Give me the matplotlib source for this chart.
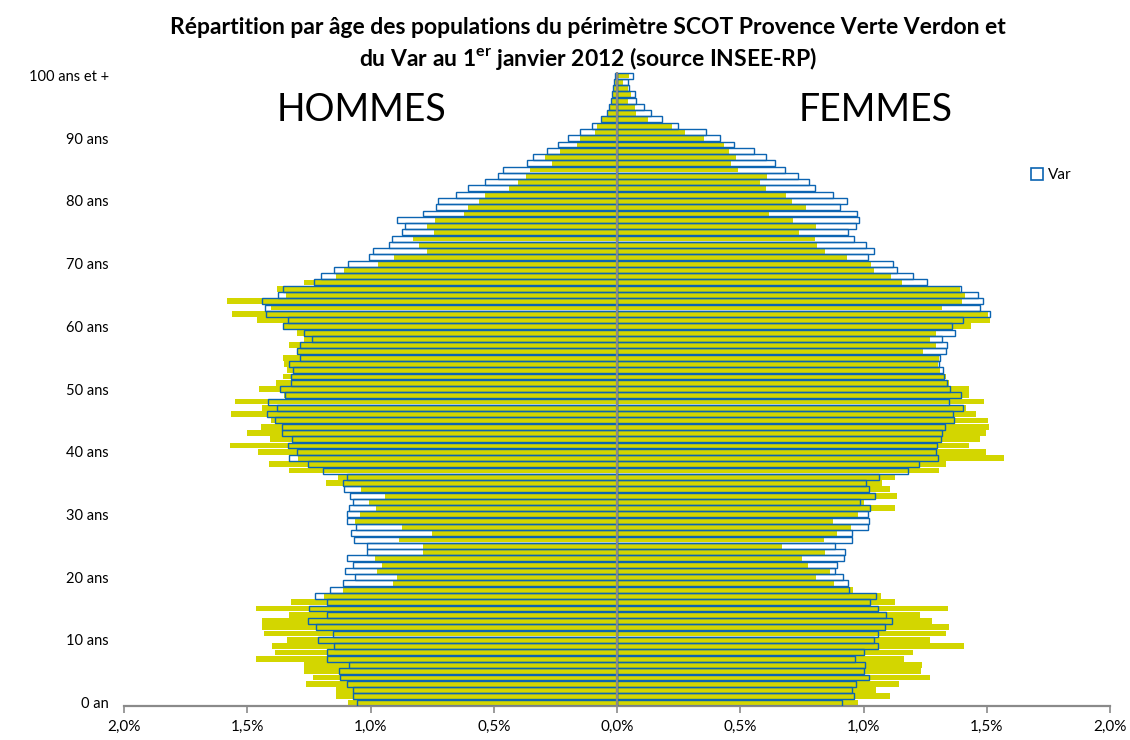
import matplotlib
matplotlib.use("Agg")
import matplotlib.pyplot as plt
from matplotlib.patches import Patch
import numpy as np

plt.rcParams['font.family'] = ['Lato', 'DejaVu Sans']
plt.rcParams['mathtext.fontset'] = 'custom'
plt.rcParams['mathtext.rm'] = 'Lato'
plt.rcParams['mathtext.bf'] = 'Lato:bold'

ages = list(range(0, 101))

hommes_scot = [1.09, 1.138, 1.14, 1.262, 1.232, 1.27, 1.268, 1.466, 1.387, 1.398,
               1.34, 1.432, 1.441, 1.441, 1.331, 1.464, 1.323, 1.189, 1.11, 0.91,
               0.894, 0.972, 0.952, 0.982, 0.788, 0.788, 0.884, 0.752, 0.874, 1.062,
               1.042, 0.978, 1.006, 0.941, 1.039, 1.182, 1.131, 1.33, 1.412, 1.296,
               1.458, 1.572, 1.408, 1.501, 1.444, 1.404, 1.566, 1.442, 1.55, 1.351,
               1.451, 1.384, 1.354, 1.337, 1.351, 1.356, 1.30, 1.329, 1.268, 1.30,
               1.356, 1.459, 1.56, 1.404, 1.583, 1.343, 1.378, 1.268, 1.14, 1.108,
               0.971, 0.905, 0.772, 0.802, 0.829, 0.741, 0.772, 0.738, 0.62, 0.603,
               0.558, 0.535, 0.437, 0.40, 0.369, 0.353, 0.265, 0.292, 0.231, 0.164,
               0.15, 0.089, 0.082, 0.06, 0.035, 0.028, 0.022, 0.018, 0.012, 0.008,
               0.006]

hommes_var = [1.055, 1.072, 1.072, 1.097, 1.124, 1.126, 1.087, 1.175, 1.175, 1.148,
              1.215, 1.153, 1.222, 1.252, 1.178, 1.249, 1.178, 1.225, 1.164, 1.11,
              1.063, 1.103, 1.07, 1.094, 1.013, 1.013, 1.067, 1.08, 1.059, 1.097,
              1.097, 1.086, 1.072, 1.083, 1.108, 1.11, 1.097, 1.194, 1.252, 1.329,
              1.297, 1.333, 1.32, 1.36, 1.358, 1.388, 1.419, 1.378, 1.414, 1.346,
              1.369, 1.322, 1.322, 1.316, 1.329, 1.286, 1.30, 1.286, 1.236, 1.268,
              1.354, 1.336, 1.424, 1.428, 1.441, 1.374, 1.354, 1.229, 1.201, 1.148,
              1.09, 1.005, 0.989, 0.925, 0.914, 0.874, 0.86, 0.894, 0.786, 0.734,
              0.728, 0.653, 0.606, 0.535, 0.484, 0.461, 0.366, 0.339, 0.285, 0.238,
              0.197, 0.15, 0.10, 0.065, 0.039, 0.031, 0.026, 0.022, 0.016, 0.011,
              0.008]

femmes_scot = [0.976, 1.109, 1.052, 1.143, 1.268, 1.233, 1.237, 1.163, 1.201, 1.406,
               1.268, 1.336, 1.346, 1.278, 1.228, 1.341, 1.129, 1.071, 0.957, 0.882,
               0.809, 0.865, 0.775, 0.75, 0.842, 0.669, 0.838, 0.894, 0.951, 0.875,
               0.976, 1.129, 1.003, 1.136, 1.106, 1.075, 1.129, 1.305, 1.336, 1.569,
               1.497, 1.429, 1.471, 1.498, 1.508, 1.504, 1.456, 1.417, 1.487, 1.429,
               1.427, 1.345, 1.336, 1.312, 1.302, 1.308, 1.241, 1.294, 1.271, 1.294,
               1.436, 1.512, 1.505, 1.318, 1.40, 1.41, 1.39, 1.156, 1.112, 1.041,
               1.03, 0.933, 0.842, 0.811, 0.802, 0.737, 0.807, 0.713, 0.615, 0.767,
               0.71, 0.687, 0.604, 0.582, 0.609, 0.491, 0.462, 0.483, 0.453, 0.434,
               0.353, 0.275, 0.223, 0.126, 0.077, 0.072, 0.045, 0.058, 0.045, 0.023,
               0.05]

femmes_var = [0.913, 0.96, 0.953, 0.97, 1.021, 1.001, 1.007, 0.967, 1.001, 1.057,
              1.041, 1.057, 1.089, 1.116, 1.091, 1.059, 1.025, 1.051, 0.94, 0.936,
              0.917, 0.886, 0.892, 0.922, 0.926, 0.886, 0.953, 0.953, 1.018, 1.024,
              1.018, 1.028, 0.987, 1.045, 1.021, 1.01, 1.062, 1.181, 1.227, 1.302,
              1.294, 1.298, 1.316, 1.318, 1.329, 1.366, 1.362, 1.402, 1.345, 1.396,
              1.352, 1.339, 1.325, 1.321, 1.308, 1.312, 1.335, 1.339, 1.318, 1.37,
              1.359, 1.404, 1.512, 1.474, 1.483, 1.463, 1.396, 1.258, 1.199, 1.136,
              1.118, 1.018, 1.041, 1.01, 0.963, 0.936, 0.971, 0.98, 0.974, 0.906,
              0.933, 0.875, 0.805, 0.778, 0.734, 0.683, 0.64, 0.604, 0.557, 0.473,
              0.417, 0.362, 0.246, 0.183, 0.139, 0.108, 0.077, 0.072, 0.05, 0.043,
              0.063]

ytick_pos = [0, 10, 20, 30, 40, 50, 60, 70, 80, 90, 100]
ytick_labels = ["0 an", "10 ans", "20 ans", "30 ans", "40 ans", "50 ans", "60 ans",
                "70 ans", "80 ans", "90 ans", "100 ans et +"]
xtick_pos = [-2.0, -1.5, -1.0, -0.5, 0.0, 0.5, 1.0, 1.5, 2.0]
xtick_labels = ["2,0%", "1,5%", "1,0%", "0,5%", "0,0%", "0,5%", "1,0%", "1,5%", "2,0%"]

YELLOW = '#D3D600'
BLUE = '#0B64B2'
GRAY = '#8A8A8A'

fig = plt.figure(figsize=(11.3, 7.4), dpi=100)
ax = fig.add_axes([124/1130, 34.3/740, 986/1130, 633.3/740])

y = np.array(ages)
ax.barh(y, -np.array(hommes_scot), height=0.92, color=YELLOW, linewidth=0, zorder=2)
ax.barh(y, np.array(femmes_scot), height=0.92, color=YELLOW, linewidth=0, zorder=2)
ax.barh(y, -np.array(hommes_var), height=0.95, facecolor='none', edgecolor=BLUE,
        linewidth=1.0, zorder=3)
ax.barh(y, np.array(femmes_var), height=0.95, facecolor='none', edgecolor=BLUE,
        linewidth=1.0, zorder=3)

ax.axvline(0, color=GRAY, linewidth=1.6, zorder=4)

ax.set_xlim(-2.0, 2.0)
ax.set_ylim(-0.5, 100.5)
ax.set_xticks(xtick_pos)
ax.set_xticklabels(xtick_labels, fontsize=11)
ax.set_yticks(ytick_pos)
ax.set_yticklabels(ytick_labels, fontsize=10.5)
ax.tick_params(axis='y', length=0, pad=11)
ax.tick_params(axis='x', length=5, width=1.2, color=GRAY, pad=5, direction='out')
for s in ['top', 'right', 'left']:
    ax.spines[s].set_visible(False)
ax.spines['bottom'].set_color(GRAY)
ax.spines['bottom'].set_linewidth(1.6)

fig.text(588/1130, 1 - 27/740, "Répartition par âge des populations du périmètre SCOT Provence Verte Verdon et",
         ha='center', va='center', fontsize=16.5, fontweight='bold')
fig.text(588/1130, 1 - 58/740, r"du Var au 1$^{\mathbf{er}}$ janvier 2012 (source INSEE-RP)",
         ha='center', va='center', fontsize=16.5, fontweight='bold')

fig.text(362/1130, 1 - 110/740, "HOMMES", ha='center', va='center', fontsize=27)
fig.text(876/1130, 1 - 110/740, "FEMMES", ha='center', va='center', fontsize=27)

handles = [Patch(facecolor='white', edgecolor=BLUE, linewidth=1.2, label='Var')]
fig.legend(handles=handles, loc='center left', bbox_to_anchor=(1031/1130, 1 - 175/740),
           bbox_transform=fig.transFigure, frameon=False, fontsize=11,
           handlelength=0.8, handleheight=0.8, handletextpad=0.3, borderpad=0,
           borderaxespad=0)

fig.savefig("out.png", dpi=100)
